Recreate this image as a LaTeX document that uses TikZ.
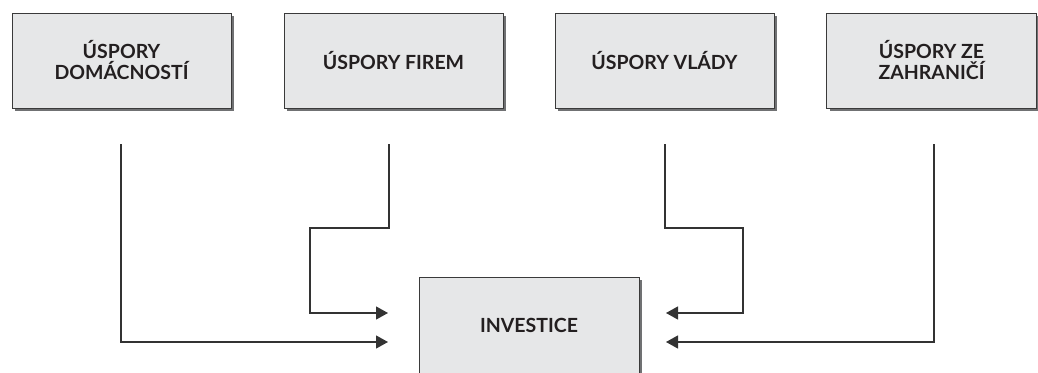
\documentclass[tikz,border=0pt]{standalone}
\usepackage{fontspec}
\setmainfont{Lato}
\usetikzlibrary{arrows.meta,shadows}
\definecolor{boxfill}{HTML}{E6E7E8}
\definecolor{boxline}{HTML}{3A3A3A}
\definecolor{shadowgray}{HTML}{707173}
\definecolor{linecol}{HTML}{333333}
\definecolor{txt}{HTML}{231F20}
\begin{document}
\begin{tikzpicture}[x=1pt,y=-1pt,
  box/.style={draw=boxline, fill=boxfill, line width=1pt, minimum width=219pt,
    minimum height=95pt, inner sep=0pt, align=center, text=txt,
    font=\bfseries\fontsize{19.5}{21}\selectfont,
    general shadow={fill=shadowgray, shadow xshift=3pt, shadow yshift=-3pt}},
  conn/.style={draw=linecol, line width=1.2pt},
  arr/.style={conn, -{Triangle[length=12pt,width=13pt]}}]
\useasboundingbox (0,0) rectangle (1038,372);
\clip (0,0) rectangle (1038,372);
\node[box] (h) at (121.5,60.5) {ÚSPORY\\DOMÁCNOSTÍ};
\node[box] (f) at (393.5,60.5) {ÚSPORY FIREM};
\node[box] (v) at (664.5,60.5) {ÚSPORY VLÁDY};
\node[box, minimum width=210pt] (z) at (931.5,60.5) {ÚSPORY ZE\\ZAHRANIČÍ};
\node[box, minimum width=220pt, minimum height=96pt] (i) at (529,325) {INVESTICE};
\coordinate (h1) at (121,144);
\coordinate (f1) at (389,144);
\coordinate (v1) at (665,144);
\coordinate (z1) at (934,144);
\coordinate (fb) at (310,228);
\coordinate (vb) at (743,228);
\coordinate (a1) at (388,313);
\coordinate (a2) at (388,342);
\coordinate (a3) at (666,313);
\coordinate (a4) at (666,342);
\draw[arr] (h1) |- (a2);
\draw[arr] (f1) |- (fb) |- (a1);
\draw[arr] (v1) |- (vb) |- (a3);
\draw[arr] (z1) |- (a4);
\end{tikzpicture}
\end{document}
